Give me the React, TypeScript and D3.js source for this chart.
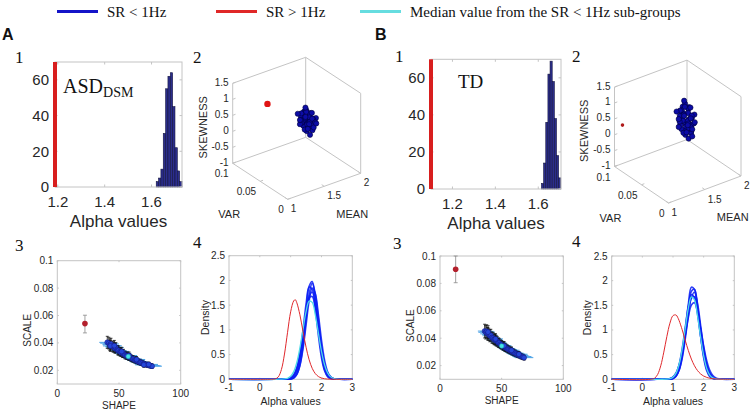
import React from "react";
import * as d3 from "d3";

// ---------------- DATA ----------------
const LEGEND_LABELS = ["SR < 1Hz", "SR > 1Hz", "Median value from the SR < 1Hz sub-groups"];
const PANEL_LETTERS = ["A", "B"];
const PANEL_NUMBERS = ["1", "2", "3", "4"];
const GROUP_A = "ASD";
const GROUP_A_SUB = "DSM";
const GROUP_B = "TD";

// panel 1: histograms of alpha values
const COUNT_TICKS = [0, 20, 40, 60];
const COUNT_MAX = 70;
const ALPHA_TICKS_HIST = [1.2, 1.4, 1.6];
const HIST_A_XLIM = [1.188, 1.73];
const HIST_A_EDGES = [1.62, 1.63, 1.64, 1.65, 1.66, 1.67, 1.68, 1.69, 1.7, 1.71, 1.72, 1.73];
const HIST_A_COUNTS = [3, 5, 10, 30, 55, 62, 64, 45, 22, 9, 3];
const RED_ALPHA_A = 1.188;
const HIST_B_XLIM = [1.1, 1.706];
const HIST_B_EDGES = [1.615, 1.625, 1.635, 1.645, 1.655, 1.665, 1.675, 1.685, 1.695, 1.705];
const HIST_B_COUNTS = [3, 14, 36, 62, 69, 58, 38, 18, 6];
const RED_ALPHA_B = 1.1;

// panel 2: 3D scatter (MEAN, VAR, SKEWNESS)
const MEAN_LIM = [1, 2];
const VAR_LIM = [0, 0.1];
const SKEW_LIM = [-1, 1.5];
const MEAN_TICKS = [1, 1.5, 2];
const VAR_TICKS = [0, 0.05, 0.1];
const SKEW_TICKS = [-1, -0.5, 0, 0.5, 1, 1.5];
const CLUSTER_A = [
  [1.68, 0.053, 0.27], [1.66, 0.048, 0.35], [1.7, 0.058, 0.2], [1.65, 0.055, 0.42], [1.71, 0.05, 0.1],
  [1.67, 0.06, 0.3], [1.69, 0.045, 0.38], [1.64, 0.05, 0.15], [1.72, 0.056, 0.45], [1.68, 0.062, 0.05],
  [1.66, 0.058, 0.55], [1.7, 0.047, 0.28], [1.63, 0.057, 0.25], [1.73, 0.052, 0.32], [1.67, 0.044, 0.12],
  [1.69, 0.064, 0.4], [1.65, 0.061, 0.18], [1.71, 0.043, 0.48], [1.68, 0.049, 0.58], [1.66, 0.053, 0.0],
  [1.7, 0.063, 0.22], [1.64, 0.046, 0.35], [1.72, 0.06, 0.08], [1.67, 0.055, 0.62], [1.69, 0.051, 0.16],
  [1.65, 0.059, 0.36], [1.71, 0.054, 0.5], [1.68, 0.066, 0.28], [1.66, 0.042, 0.3], [1.7, 0.053, 0.4],
  [1.63, 0.052, 0.45], [1.73, 0.057, 0.18], [1.67, 0.05, 0.24], [1.69, 0.058, 0.52], [1.65, 0.064, 0.1],
  [1.71, 0.047, 0.14], [1.68, 0.044, 0.46], [1.66, 0.063, 0.44], [1.7, 0.049, 0.58], [1.64, 0.054, 0.05],
  [1.72, 0.051, 0.36], [1.67, 0.065, 0.2], [1.69, 0.055, 0.02], [1.62, 0.06, 0.3], [1.74, 0.048, 0.26],
  [1.68, 0.058, 0.66], [1.66, 0.047, -0.05], [1.7, 0.041, 0.34], [1.65, 0.068, 0.38], [1.71, 0.062, 0.3],
];
const RED3D_A = [1.19, 0.062, 1.13];
const CLUSTER_B = [
  [1.67, 0.056, 0.34], [1.65, 0.05, 0.5], [1.69, 0.061, 0.2], [1.64, 0.058, 0.62], [1.7, 0.052, 0.05],
  [1.66, 0.063, 0.4], [1.68, 0.048, 0.55], [1.63, 0.053, 0.15], [1.71, 0.059, 0.7], [1.67, 0.066, 0.0],
  [1.65, 0.061, 0.78], [1.69, 0.05, 0.3], [1.62, 0.06, 0.35], [1.72, 0.055, 0.45], [1.66, 0.047, 0.1],
  [1.68, 0.067, 0.58], [1.64, 0.064, 0.18], [1.7, 0.046, 0.66], [1.67, 0.052, 0.85], [1.65, 0.056, -0.05],
  [1.69, 0.066, 0.25], [1.63, 0.049, 0.48], [1.71, 0.063, 0.08], [1.66, 0.058, 0.9], [1.68, 0.054, 0.16],
  [1.64, 0.062, 0.5], [1.7, 0.057, 0.72], [1.67, 0.069, 0.38], [1.65, 0.045, 0.36], [1.69, 0.056, 0.6],
  [1.62, 0.055, 0.62], [1.72, 0.06, 0.2], [1.66, 0.053, 0.28], [1.68, 0.061, 0.75], [1.64, 0.067, 0.08],
  [1.7, 0.05, 0.15], [1.67, 0.047, 0.64], [1.65, 0.066, 0.6], [1.69, 0.052, 0.82], [1.63, 0.057, 0.02],
  [1.71, 0.054, 0.44], [1.66, 0.068, 0.22], [1.68, 0.058, -0.02], [1.61, 0.063, 0.4], [1.73, 0.051, 0.3],
  [1.67, 0.061, 0.95], [1.65, 0.05, -0.1], [1.69, 0.044, 0.45], [1.64, 0.071, 0.52], [1.7, 0.065, 0.4],
  [1.67, 0.046, 0.0],
];
const RED3D_B = [1.11, 0.1, 0.21];

// panel 3: SHAPE vs SCALE  [shape, scale, scale half-CI, shape half-CI]
const SHAPE_LIM = [0, 100];
const SCALE_LIM = [0.01, 0.1];
const SHAPE_TICKS = [0, 50, 100];
const SCALE_TICKS = [0.02, 0.04, 0.06, 0.08, 0.1];
const GAMMA_A = [
  [40.5, 0.0404, 0.0044, 6.5], [41.8, 0.0398, 0.0043, 7], [42.6, 0.0387, 0.0042, 6], [43.5, 0.0392, 0.0042, 6.5],
  [44.9, 0.0374, 0.0039, 6], [45.7, 0.0369, 0.0037, 6.5], [46.8, 0.036, 0.0036, 6], [47.4, 0.0366, 0.0036, 6.5],
  [48.9, 0.0347, 0.0034, 6], [49.6, 0.0344, 0.0033, 6.5], [50.8, 0.0336, 0.0031, 6], [51.5, 0.0332, 0.0031, 6.5],
  [52.9, 0.0322, 0.0029, 6], [53.6, 0.0324, 0.0029, 6.5], [54.8, 0.0312, 0.0028, 6], [55.9, 0.0308, 0.0027, 6.5],
  [56.7, 0.0305, 0.0026, 6], [57.9, 0.0297, 0.0025, 6.5], [58.6, 0.0299, 0.0025, 6], [59.8, 0.0289, 0.0024, 6.5],
  [60.9, 0.0284, 0.0023, 6.5], [61.7, 0.0282, 0.0023, 7], [62.8, 0.0275, 0.0022, 6.5], [63.9, 0.0273, 0.0022, 7],
  [64.6, 0.0268, 0.0021, 6.5], [65.8, 0.0262, 0.002, 7], [66.9, 0.026, 0.002, 7], [67.7, 0.0256, 0.0019, 7],
  [68.8, 0.0253, 0.0019, 7], [69.9, 0.0248, 0.0018, 7.5], [70.7, 0.0246, 0.0018, 7], [71.8, 0.0242, 0.0017, 7.5],
  [72.9, 0.024, 0.0017, 7.5], [73.7, 0.0237, 0.0017, 7.5], [74.8, 0.0235, 0.0016, 8], [75.9, 0.0232, 0.0016, 8],
  [76.8, 0.023, 0.0016, 8], [43.0, 0.0378, 0.004, 6], [46.2, 0.038, 0.0038, 6], [52.2, 0.0338, 0.003, 6],
  [58.1, 0.0308, 0.0026, 6.5], [64.2, 0.0279, 0.0022, 7], [70.1, 0.024, 0.0018, 7], [74.1, 0.0243, 0.0017, 7.5],
];
const MEDIAN_A = [57.5, 0.0301];
const RED_GAMMA_A = [22.4, 0.0541, 0.0473, 0.0602];
const GAMMA_B = [
  [36.2, 0.0452, 0.005, 5.5], [37.1, 0.0443, 0.0049, 6], [37.9, 0.045, 0.0048, 5.5], [38.6, 0.0432, 0.0046, 6],
  [39.5, 0.0428, 0.0045, 5.5], [40.4, 0.0418, 0.0044, 6], [41.2, 0.0422, 0.0043, 5.5], [42.1, 0.0405, 0.0041, 6],
  [43.0, 0.0401, 0.004, 5.5], [43.8, 0.0392, 0.0039, 6], [44.7, 0.0388, 0.0038, 6], [45.5, 0.0381, 0.0037, 6],
  [46.4, 0.0377, 0.0036, 6], [47.3, 0.0367, 0.0034, 6], [48.1, 0.0365, 0.0034, 6], [49.0, 0.0356, 0.0032, 6],
  [49.9, 0.0352, 0.0031, 6], [50.7, 0.0345, 0.003, 6], [51.6, 0.0342, 0.003, 6], [52.5, 0.0334, 0.0029, 6],
  [53.3, 0.0331, 0.0028, 6], [54.2, 0.0325, 0.0027, 6.5], [55.1, 0.032, 0.0026, 6.5], [55.9, 0.0316, 0.0026, 6.5],
  [56.8, 0.0311, 0.0025, 6.5], [57.7, 0.0307, 0.0024, 6.5], [58.5, 0.0301, 0.0023, 6.5], [59.4, 0.0298, 0.0023, 6.5],
  [60.3, 0.0293, 0.0022, 6.5], [61.1, 0.029, 0.0022, 7], [62.0, 0.0285, 0.0021, 7], [62.9, 0.0281, 0.0021, 7],
  [63.8, 0.0277, 0.002, 7], [64.6, 0.0274, 0.002, 7], [65.5, 0.0269, 0.0019, 7], [66.4, 0.0266, 0.0019, 7.5],
  [67.3, 0.0262, 0.0018, 7.5], [68.2, 0.0258, 0.0018, 7.5], [39.0, 0.0445, 0.0046, 5.5], [45.0, 0.0395, 0.0038, 6],
  [52.0, 0.0345, 0.003, 6], [58.0, 0.0312, 0.0024, 6.5], [64.0, 0.0283, 0.002, 7],
];
const MEDIAN_B = [50.0, 0.0343];
const RED_GAMMA_B = [12.7, 0.0903, 0.0805, 0.1];

// panel 4: densities of alpha values
const ALPHA_LIM = [-1, 3];
const DENSITY_LIM = [0, 2.5];
const ALPHA_TICKS = [-1, 0, 1, 2, 3];
const DENSITY_TICKS = [0, 0.5, 1, 1.5, 2, 2.5];
const DENS_X = [-1, 0.5, 0.9, 1.0, 1.1, 1.2, 1.3, 1.4, 1.5, 1.6, 1.7, 1.8, 1.9, 2.0, 2.1, 2.2, 2.3, 2.4, 2.5, 2.6, 3];
const BLUE_DENS_A = [
  [0, 0, 0.001, 0.007, 0.034, 0.127, 0.361, 0.804, 1.394, 1.882, 1.978, 1.619, 1.033, 0.513, 0.198, 0.06, 0.014, 0.003, 0, 0, 0],
  [0, 0, 0.001, 0.006, 0.027, 0.1, 0.29, 0.667, 1.209, 1.728, 1.946, 1.728, 1.209, 0.667, 0.29, 0.1, 0.027, 0.006, 0.001, 0, 0],
  [0, 0, 0.004, 0.018, 0.07, 0.211, 0.512, 0.989, 1.521, 1.866, 1.824, 1.421, 0.883, 0.437, 0.172, 0.054, 0.014, 0.003, 0, 0, 0],
  [0, 0, 0.001, 0.007, 0.029, 0.1, 0.275, 0.613, 1.1, 1.588, 1.848, 1.732, 1.308, 0.795, 0.389, 0.153, 0.049, 0.012, 0.003, 0, 0],
  [0, 0, 0.004, 0.018, 0.064, 0.182, 0.426, 0.818, 1.287, 1.664, 1.766, 1.538, 1.099, 0.645, 0.311, 0.123, 0.04, 0.011, 0.002, 0, 0],
  [0, 0, 0.009, 0.033, 0.099, 0.25, 0.525, 0.921, 1.346, 1.644, 1.673, 1.422, 1.008, 0.596, 0.294, 0.121, 0.042, 0.012, 0.003, 0, 0],
];
const CYAN_DENS_A = [0, 0, 0.02, 0.06, 0.155, 0.34, 0.634, 1.009, 1.368, 1.58, 1.555, 1.304, 0.932, 0.567, 0.294, 0.13, 0.049, 0.016, 0.004, 0, 0];
const BLUE_DENS_B = [
  [0, 0, 0.004, 0.018, 0.07, 0.211, 0.512, 0.989, 1.521, 1.866, 1.824, 1.421, 0.883, 0.437, 0.172, 0.054, 0.014, 0.003, 0, 0, 0],
  [0, 0, 0.004, 0.017, 0.062, 0.188, 0.457, 0.893, 1.407, 1.785, 1.824, 1.501, 0.995, 0.532, 0.228, 0.079, 0.022, 0.005, 0.001, 0, 0],
  [0, 0, 0.004, 0.018, 0.064, 0.182, 0.426, 0.818, 1.287, 1.664, 1.766, 1.538, 1.099, 0.645, 0.311, 0.123, 0.04, 0.011, 0.002, 0, 0],
  [0, 0, 0.011, 0.041, 0.122, 0.302, 0.62, 1.052, 1.478, 1.72, 1.657, 1.32, 0.871, 0.476, 0.215, 0.081, 0.025, 0.006, 0.001, 0, 0],
  [0, 0, 0.009, 0.033, 0.099, 0.25, 0.525, 0.921, 1.346, 1.644, 1.673, 1.422, 1.008, 0.596, 0.294, 0.121, 0.042, 0.012, 0.003, 0, 0],
  [0, 0, 0.016, 0.05, 0.129, 0.286, 0.546, 0.893, 1.253, 1.507, 1.554, 1.374, 1.042, 0.677, 0.378, 0.181, 0.074, 0.026, 0.008, 0.002, 0],
];
const CYAN_DENS_B = [0, 0, 0.012, 0.043, 0.125, 0.305, 0.615, 1.03, 1.44, 1.67, 1.61, 1.29, 0.86, 0.48, 0.22, 0.085, 0.028, 0.008, 0.002, 0, 0];
const RED_X = [-1, 0.3, 0.4, 0.5, 0.6, 0.7, 0.8, 0.9, 1.0, 1.1, 1.15, 1.2, 1.3, 1.4, 1.5, 1.6, 1.7, 1.8, 1.9, 2.0, 2.1, 2.2, 2.4, 2.6, 3];
const RED_DENS_A = [0, 0, 0.001, 0.007, 0.049, 0.197, 0.511, 0.951, 1.365, 1.587, 1.61, 1.548, 1.305, 0.97, 0.649, 0.395, 0.221, 0.115, 0.056, 0.026, 0.011, 0.005, 0.001, 0, 0];
const RED_DENS_B = [0, 0.002, 0.022, 0.099, 0.274, 0.551, 0.869, 1.138, 1.291, 1.304, 1.259, 1.19, 1.004, 0.788, 0.584, 0.41, 0.275, 0.177, 0.11, 0.066, 0.039, 0.022, 0.007, 0.002, 0];

// ---------------- STYLE / LAYOUT ----------------
const SANS = "'Liberation Sans', Arial, Helvetica, sans-serif";
const SERIF = "'Liberation Serif', 'Times New Roman', serif";
const GRAY = "#c4c4c4";
const TXT = "#262626";
const BLUE = "#1414c8";
const RED = "#e02828";
const CYAN = "#66dde0";

const LAYOUT = {
  A: {
    letter: [2, 40],
    nums: [[15, 63], [193, 63], [15, 251], [193, 248]],
    hist: { x0: 55, y0: 62, x1: 182, y1: 187 },
    group: [63, 93],
    cube: { o: [287.7, 199.3], eu: [73, -26], ev: [-55, -36], ew: [0, -80] },
    scat: { x0: 57.3, y0: 260.7, x1: 180.7, y1: 384 },
    dens: { x0: 229, y0: 255.7, x1: 352.3, y1: 379.3 },
  },
  B: {
    letter: [375, 40],
    nums: [[395, 62], [572, 62], [393, 249], [572, 247]],
    hist: { x0: 431, y0: 59.3, x1: 561, y1: 189 },
    group: [458, 87.5],
    cube: { o: [668.5, 203], eu: [72.5, -27], ev: [-54, -36.5], ew: [0, -79.4] },
    scat: { x0: 440, y0: 256, x1: 563.3, y1: 379.3 },
    dens: { x0: 611.7, y0: 256, x1: 734.3, y1: 379.3 },
  },
};

function Frame({ box, x, y, xticks, yticks, tickLen, font, xLabDy, yLabDx }: any) {
  return (
    <g>
      <rect x={box.x0} y={box.y0} width={box.x1 - box.x0} height={box.y1 - box.y0} fill="none" stroke={GRAY} strokeWidth={1} />
      {xticks.map((t: number, i: number) => (
        <g key={"x" + i}>
          <line x1={x(t)} x2={x(t)} y1={box.y1} y2={box.y1 - tickLen} stroke={GRAY} />
          <line x1={x(t)} x2={x(t)} y1={box.y0} y2={box.y0 + tickLen} stroke={GRAY} />
          <text x={x(t)} y={box.y1 + xLabDy} textAnchor="middle" fontFamily={SANS} fontSize={font} fill={TXT}>{String(t)}</text>
        </g>
      ))}
      {yticks.map((t: number, i: number) => (
        <g key={"y" + i}>
          <line x1={box.x0} x2={box.x0 + tickLen} y1={y(t)} y2={y(t)} stroke={GRAY} />
          <line x1={box.x1} x2={box.x1 - tickLen} y1={y(t)} y2={y(t)} stroke={GRAY} />
          <text x={box.x0 - yLabDx} y={y(t)} dy="0.35em" textAnchor="end" fontFamily={SANS} fontSize={font} fill={TXT}>{String(t)}</text>
        </g>
      ))}
    </g>
  );
}

function HistPanel({ box, xlim, edges, counts, red }: any) {
  const x = d3.scaleLinear().domain(xlim).range([box.x0, box.x1]);
  const y = d3.scaleLinear().domain([0, COUNT_MAX]).range([box.y1, box.y0]);
  return (
    <g>
      <rect x={box.x0} y={box.y0} width={box.x1 - box.x0} height={box.y1 - box.y0} fill="#fff" />
      {counts.map((c: number, i: number) => (
        <rect key={i} x={x(edges[i])} y={y(c)} width={x(edges[i + 1]) - x(edges[i])} height={y(0) - y(c)} fill="#2b2d8c" stroke="#15153f" strokeWidth={0.6} />
      ))}
      <Frame box={box} x={x} y={y} xticks={ALPHA_TICKS_HIST} yticks={COUNT_TICKS} tickLen={2.5} font={15} xLabDy={19.5} yLabDx={6} />
      <line x1={x(red)} x2={x(red)} y1={y(0)} y2={y(COUNT_MAX)} stroke="#d81e1e" strokeWidth={4} />
      <text x={(box.x0 + box.x1) / 2} y={box.y1 + 40} textAnchor="middle" fontFamily={SANS} fontSize={17} fill={TXT}>Alpha values</text>
    </g>
  );
}

function CubePanel({ g, pts, red, redR, redFill }: any) {
  const mu = d3.scaleLinear().domain(MEAN_LIM).range([0, 1]);
  const vu = d3.scaleLinear().domain(VAR_LIM).range([0, 1]);
  const wu = d3.scaleLinear().domain(SKEW_LIM).range([0, 1]);
  const P = (m: number, v: number, s: number) => {
    const a = mu(m), b = vu(v), c = wu(s);
    return [g.o[0] + a * g.eu[0] + b * g.ev[0] + c * g.ew[0], g.o[1] + a * g.eu[1] + b * g.ev[1] + c * g.ew[1]];
  };
  const C = (i: number, j: number, k: number) => P(MEAN_LIM[i], VAR_LIM[j], SKEW_LIM[k]);
  const edges: number[][][] = [];
  const hidden = (i: number, j: number, k: number) => i === 0 && j === 0 && k === 1;
  for (let i = 0; i < 2; i++) for (let j = 0; j < 2; j++) for (let k = 0; k < 2; k++) {
    if (hidden(i, j, k)) continue;
    if (i === 0 && !hidden(1, j, k)) edges.push([C(0, j, k), C(1, j, k)]);
    if (j === 0 && !hidden(i, 1, k)) edges.push([C(i, 0, k), C(i, 1, k)]);
    if (k === 0 && !hidden(i, j, 1)) edges.push([C(i, j, 0), C(i, j, 1)]);
  }
  const norm = (e: number[], l: number) => { const n = Math.hypot(e[0], e[1]); return [e[0] / n * l, e[1] / n * l]; };
  const tu = norm(g.eu, 3), tv = norm(g.ev, 3);
  const zMid = P(MEAN_LIM[0], VAR_LIM[1], (SKEW_LIM[0] + SKEW_LIM[1]) / 2);
  const vMid = P(MEAN_LIM[0], (VAR_LIM[0] + VAR_LIM[1]) / 2, SKEW_LIM[0]);
  const mMid = P((MEAN_LIM[0] + MEAN_LIM[1]) / 2, VAR_LIM[0], SKEW_LIM[0]);
  const rp = P(red[0], red[1], red[2]);
  return (
    <g fontFamily={SANS} fill={TXT}>
      {edges.map((e, i) => (
        <line key={i} x1={e[0][0]} y1={e[0][1]} x2={e[1][0]} y2={e[1][1]} stroke={GRAY} strokeWidth={1} />
      ))}
      {SKEW_TICKS.map((t, i) => {
        const p = P(MEAN_LIM[0], VAR_LIM[1], t);
        return (
          <g key={"z" + i}>
            <line x1={p[0]} y1={p[1]} x2={p[0] + tu[0]} y2={p[1] + tu[1]} stroke={GRAY} />
            <text x={p[0] - 4} y={p[1] - 1} dy="0.35em" textAnchor="end" fontSize={10}>{String(t)}</text>
          </g>
        );
      })}
      {VAR_TICKS.map((t, i) => {
        const p = P(MEAN_LIM[0], t, SKEW_LIM[0]);
        return (
          <g key={"v" + i}>
            <line x1={p[0]} y1={p[1]} x2={p[0] + tu[0]} y2={p[1] + tu[1]} stroke={GRAY} />
            <text x={p[0] - 4} y={p[1] + 10.5} dy="0.35em" textAnchor="end" fontSize={10}>{String(t)}</text>
          </g>
        );
      })}
      {MEAN_TICKS.map((t, i) => {
        const p = P(t, VAR_LIM[0], SKEW_LIM[0]);
        return (
          <g key={"m" + i}>
            <line x1={p[0]} y1={p[1]} x2={p[0] + tv[0]} y2={p[1] + tv[1]} stroke={GRAY} />
            <text x={p[0] + 3} y={p[1] + 9.5} dy="0.35em" textAnchor="start" fontSize={10}>{String(t)}</text>
          </g>
        );
      })}
      <text transform={`translate(${zMid[0] - 30},${zMid[1] + 4}) rotate(-90)`} textAnchor="middle" dy="0.35em" fontSize={11}>SKEWNESS</text>
      <text x={vMid[0] - 31} y={vMid[1] + 33} textAnchor="middle" dy="0.35em" fontSize={11}>VAR</text>
      <text x={mMid[0] + 28} y={mMid[1] + 28} textAnchor="middle" dy="0.35em" fontSize={11}>MEAN</text>
      {pts.map((d: number[], i: number) => {
        const p = P(d[0], d[1], d[2]);
        return <circle key={i} cx={p[0]} cy={p[1]} r={2.6} fill="#0c0ca6" stroke="#00003a" strokeWidth={0.6} />;
      })}
      <circle cx={rp[0]} cy={rp[1]} r={redR} fill={redFill} />
    </g>
  );
}

function ScatterPanel({ box, pts, median, red }: any) {
  const x = d3.scaleLinear().domain(SHAPE_LIM).range([box.x0, box.x1]);
  const y = d3.scaleLinear().domain(SCALE_LIM).range([box.y1, box.y0]);
  return (
    <g>
      <Frame box={box} x={x} y={y} xticks={SHAPE_TICKS} yticks={SCALE_TICKS} tickLen={1.5} font={10} xLabDy={12.5} yLabDx={4} />
      {pts.map((d: number[], i: number) => (
        <line key={"h" + i} x1={x(d[0] - d[3])} x2={x(d[0] + d[3])} y1={y(d[1])} y2={y(d[1])} stroke="#4ea3e6" strokeWidth={1} />
      ))}
      {pts.map((d: number[], i: number) => (
        <g key={"v" + i} stroke="#111" strokeWidth={0.8}>
          <line x1={x(d[0])} x2={x(d[0])} y1={y(d[1] - d[2])} y2={y(d[1] + d[2])} />
          <line x1={x(d[0]) - 1.5} x2={x(d[0]) + 1.5} y1={y(d[1] - d[2])} y2={y(d[1] - d[2])} />
          <line x1={x(d[0]) - 1.5} x2={x(d[0]) + 1.5} y1={y(d[1] + d[2])} y2={y(d[1] + d[2])} />
        </g>
      ))}
      {pts.map((d: number[], i: number) => (
        <circle key={"c" + i} cx={x(d[0])} cy={y(d[1])} r={2.5} fill="#2446d8" stroke="#12127a" strokeWidth={0.5} />
      ))}
      <circle cx={x(median[0])} cy={y(median[1])} r={2.2} fill="#45e3e6" stroke="#1fb5b8" strokeWidth={0.5} />
      <g stroke="#8a8a8a" strokeWidth={0.8}>
        <line x1={x(red[0])} x2={x(red[0])} y1={y(red[2])} y2={y(red[3])} />
        <line x1={x(red[0]) - 2} x2={x(red[0]) + 2} y1={y(red[2])} y2={y(red[2])} />
        <line x1={x(red[0]) - 2} x2={x(red[0]) + 2} y1={y(red[3])} y2={y(red[3])} />
      </g>
      <circle cx={x(red[0])} cy={y(red[1])} r={2.8} fill="#b3202c" />
      <text x={(box.x0 + box.x1) / 2} y={box.y1 + 25} textAnchor="middle" fontFamily={SANS} fontSize={10} fill={TXT}>SHAPE</text>
      <text transform={`translate(${box.x0 - 30},${(box.y0 + box.y1) / 2 + 8}) rotate(-90)`} textAnchor="middle" dy="0.35em" fontFamily={SANS} fontSize={10} fill={TXT}>SCALE</text>
    </g>
  );
}

function DensityPanel({ box, blues, cyan, red }: any) {
  const x = d3.scaleLinear().domain(ALPHA_LIM).range([box.x0, box.x1]);
  const y = d3.scaleLinear().domain(DENSITY_LIM).range([box.y1, box.y0]);
  const lineOn = (xs: number[]) =>
    d3.line<number>().x((_, i) => x(xs[i])).y((d) => y(Math.max(0, d))).curve(d3.curveCatmullRom.alpha(0.5));
  const ld = lineOn(DENS_X);
  const lr = lineOn(RED_X);
  return (
    <g>
      <Frame box={box} x={x} y={y} xticks={ALPHA_TICKS} yticks={DENSITY_TICKS} tickLen={1.5} font={10} xLabDy={12} yLabDx={4} />
      {blues.map((c: number[], i: number) => (
        <path key={i} d={ld(c) || ""} fill="none" stroke="#0a1ef5" strokeWidth={1.6} strokeOpacity={0.85} />
      ))}
      <path d={ld(cyan) || ""} fill="none" stroke="#4fdbe6" strokeWidth={1.3} />
      <path d={lr(red) || ""} fill="none" stroke="#e0282c" strokeWidth={1} />
      <text x={(box.x0 + box.x1) / 2} y={box.y1 + 25.5} textAnchor="middle" fontFamily={SANS} fontSize={10.5} fill={TXT}>Alpha values</text>
      <text transform={`translate(${box.x0 - 24},${(box.y0 + box.y1) / 2}) rotate(-90)`} textAnchor="middle" dy="0.35em" fontFamily={SANS} fontSize={10.5} fill={TXT}>Density</text>
    </g>
  );
}

function Legend() {
  const items = [
    { x: 57, color: BLUE },
    { x: 216, color: RED },
    { x: 360, color: CYAN },
  ];
  return (
    <g>
      {items.map((it, i) => (
        <g key={i}>
          <line x1={it.x} x2={it.x + 41} y1={11.5} y2={11.5} stroke={it.color} strokeWidth={3} />
          <text x={it.x + 50} y={17} fontFamily={SERIF} fontSize={15} fill="#111">{LEGEND_LABELS[i]}</text>
        </g>
      ))}
    </g>
  );
}

export default function App() {
  const A = LAYOUT.A, B = LAYOUT.B;
  return (
    <svg width={756} height={414} viewBox="0 0 756 414" style={{ position: "absolute", left: 0, top: 0, background: "#fff" }}>
      <rect x={0} y={0} width={756} height={414} fill="#fff" />
      <Legend />
      {[A, B].map((L, i) => (
        <text key={"L" + i} x={L.letter[0]} y={L.letter[1]} fontFamily={SANS} fontWeight="bold" fontSize={16} fill="#111">{PANEL_LETTERS[i]}</text>
      ))}
      {[A, B].map((L, i) => L.nums.map((n, j) => (
        <text key={"n" + i + j} x={n[0]} y={n[1]} fontFamily={SERIF} fontSize={17} fill="#111">{PANEL_NUMBERS[j]}</text>
      )))}

      <HistPanel box={A.hist} xlim={HIST_A_XLIM} edges={HIST_A_EDGES} counts={HIST_A_COUNTS} red={RED_ALPHA_A} />
      <text x={A.group[0]} y={A.group[1]} fontFamily={SERIF} fontSize={20} fill="#111">
        {GROUP_A}<tspan dy={4} fontSize={14}>{GROUP_A_SUB}</tspan>
      </text>
      <HistPanel box={B.hist} xlim={HIST_B_XLIM} edges={HIST_B_EDGES} counts={HIST_B_COUNTS} red={RED_ALPHA_B} />
      <text x={B.group[0]} y={B.group[1]} fontFamily={SERIF} fontSize={19} fill="#111">{GROUP_B}</text>

      <CubePanel g={A.cube} pts={CLUSTER_A} red={RED3D_A} redR={3.2} redFill="#e01414" />
      <CubePanel g={B.cube} pts={CLUSTER_B} red={RED3D_B} redR={1.8} redFill="#b01c1c" />

      <ScatterPanel box={A.scat} pts={GAMMA_A} median={MEDIAN_A} red={RED_GAMMA_A} />
      <ScatterPanel box={B.scat} pts={GAMMA_B} median={MEDIAN_B} red={RED_GAMMA_B} />

      <DensityPanel box={A.dens} blues={BLUE_DENS_A} cyan={CYAN_DENS_A} red={RED_DENS_A} />
      <DensityPanel box={B.dens} blues={BLUE_DENS_B} cyan={CYAN_DENS_B} red={RED_DENS_B} />
    </svg>
  );
}
